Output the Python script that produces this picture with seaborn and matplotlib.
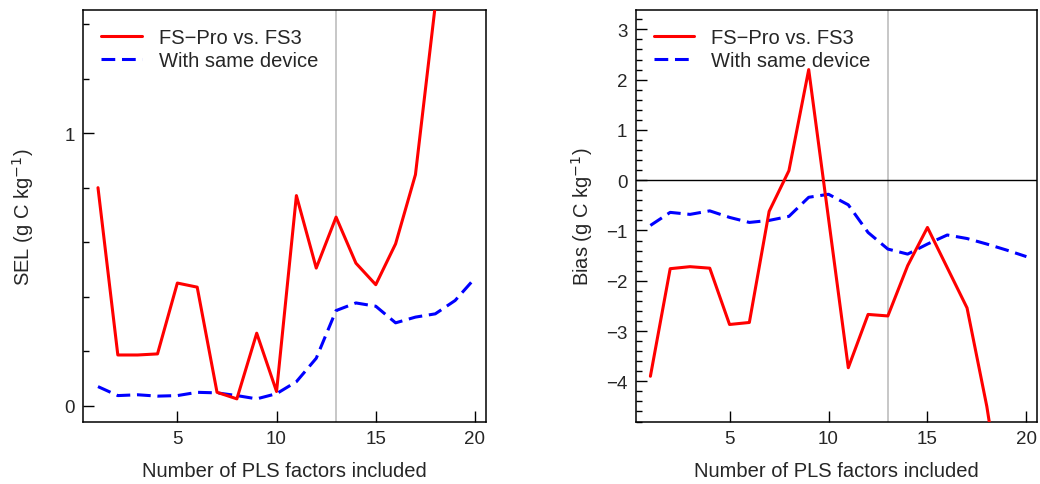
import numpy as np
import pandas as pd
import matplotlib
matplotlib.use("Agg")
import matplotlib.pyplot as plt
import seaborn as sns
from matplotlib.ticker import MultipleLocator

# number of PLS factors
factors = list(range(1, 21))

# SEL (g C kg-1)
sel_fs_pro = [0.80, 0.186, 0.186, 0.19, 0.45, 0.435, 0.049, 0.025, 0.266, 0.052,
              0.771, 0.505, 0.692, 0.523, 0.444, 0.594, 0.848, 1.47, 2.2, 3.0]
sel_same = [0.07, 0.037, 0.04, 0.035, 0.037, 0.049, 0.047, 0.037, 0.025, 0.044,
            0.088, 0.174, 0.349, 0.377, 0.365, 0.304, 0.325, 0.337, 0.386, 0.468]

# Bias (g C kg-1)
bias_fs_pro = [-3.90, -1.76, -1.72, -1.75, -2.87, -2.83, -0.62, 0.19, 2.20, -0.76,
               -3.73, -2.67, -2.70, -1.70, -0.94, -1.74, -2.54, -4.50, -7.0, -9.0]
bias_same = [-0.90, -0.64, -0.68, -0.61, -0.74, -0.84, -0.80, -0.72, -0.34, -0.28,
             -0.49, -1.04, -1.37, -1.47, -1.27, -1.09, -1.16, -1.27, -1.39, -1.52]

labels = ["FS\u2212Pro vs. FS3", "With same device"]
chosen_factor = 13

sns.set_style("ticks")
plt.rcParams['font.family'] = ['Liberation Sans', 'DejaVu Sans']
plt.rcParams['axes.unicode_minus'] = True

fig = plt.figure(figsize=(10.4, 4.85), dpi=100)
ax1 = fig.add_axes([0.0801, 0.1278, 0.3869, 0.850])
ax2 = fig.add_axes([0.6113, 0.1278, 0.3859, 0.850])

df_sel = pd.DataFrame({"factor": factors, "fs": sel_fs_pro, "same": sel_same})
df_bias = pd.DataFrame({"factor": factors, "fs": bias_fs_pro, "same": bias_same})

def draw_panel(ax, df, ylabel, ylim, label_x, hline=False):
    ax.axvline(chosen_factor, color="#BEBEBE", lw=1.2, zorder=1)
    if hline:
        ax.axhline(0, color="black", lw=1.0, zorder=1)
    sns.lineplot(data=df, x="factor", y="fs", ax=ax, color="red", lw=2.2,
                 label=labels[0], zorder=3)
    sns.lineplot(data=df, x="factor", y="same", ax=ax, color="blue", lw=2.2,
                 label=labels[1], zorder=2)
    ax.lines[-1].set_dashes((4.5, 2.2))
    ax.set_xlim(0.26, 20.54)
    ax.set_ylim(*ylim)
    ax.set_xticks([5, 10, 15, 20])
    ax.yaxis.set_major_locator(MultipleLocator(1))
    ax.yaxis.set_minor_locator(MultipleLocator(0.2))
    ax.tick_params(which="major", direction="in", length=8, width=1.0,
                   labelsize=13.5, pad=6, color="black")
    ax.tick_params(which="minor", axis="y", direction="in", length=4, width=1.0,
                   color="black")
    ax.set_xlabel("Number of PLS factors included", fontsize=14.5, labelpad=10)
    ax.set_ylabel(ylabel, fontsize=14.5)
    ax.yaxis.set_label_coords(label_x, 0.5)
    for sp in ax.spines.values():
        sp.set_visible(True)
        sp.set_color("black")
        sp.set_linewidth(1.1)
    h, l = ax.get_legend_handles_labels()
    h[1].set_dashes((4.5, 2.2))
    ax.legend(h, l, loc="upper left", frameon=False, fontsize=14.5,
              handlelength=2.0, handletextpad=0.85, labelspacing=0.2,
              borderaxespad=0.3, bbox_to_anchor=(0.01, 0.99))

draw_panel(ax1, df_sel, "SEL (g C kg$^{-1}$)", (-0.06, 1.453), -0.118)
draw_panel(ax2, df_bias, "Bias (g C kg$^{-1}$)", (-4.81, 3.39), -0.102, hline=True)

fig.savefig("out.png", dpi=100)
